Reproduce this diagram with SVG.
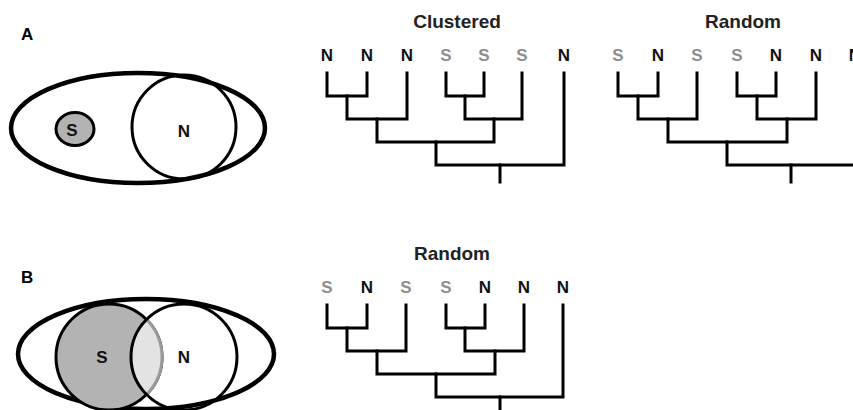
<svg xmlns="http://www.w3.org/2000/svg" width="853" height="410" viewBox="0 0 853 410">
<style>
text{font-family:"Liberation Sans",Arial,sans-serif;font-weight:bold;text-anchor:middle;}
.panel{font-size:17px;text-anchor:start;}
.title{font-size:19px;fill:#222;}
.tip{font-size:17px;fill:#111;}
.tip.s{fill:#8e8e8e;}
.venn{font-size:17px;fill:#111;}
.tree{fill:none;stroke:#000;stroke-width:3;stroke-linejoin:miter;stroke-linecap:square;}
.outer{fill:#fff;stroke:#000;stroke-width:4.5;}
.circ{fill:none;stroke:#000;stroke-width:3;}
</style>
<defs>
<clipPath id="clipN"><circle cx="184" cy="357" r="53"/></clipPath>
</defs>
<rect width="853" height="410" fill="#fff"/>

<text class="panel" x="21" y="40">A</text>
<text class="panel" x="21" y="283">B</text>

<g id="venn-a">
<ellipse class="outer" cx="138" cy="128" rx="127" ry="55"/>
<circle class="circ" cx="184" cy="127" r="52" fill="#fff"/>
<ellipse cx="75" cy="129" rx="19" ry="16.5" fill="#b3b3b3" stroke="#000" stroke-width="3"/>
<text class="venn" x="72" y="136">S</text>
<text class="venn" x="184" y="137">N</text>
</g>

<g id="venn-b">
<ellipse class="outer" cx="146" cy="354" rx="128" ry="55"/>
<circle cx="109" cy="357" r="53" fill="#b3b3b3" stroke="#000" stroke-width="3"/>
<circle cx="109" cy="357" r="53" fill="#e3e3e3" stroke="#9a9a9a" stroke-width="3" clip-path="url(#clipN)"/>
<circle class="circ" cx="184" cy="357" r="53"/>
<text class="venn" x="102" y="363">S</text>
<text class="venn" x="184" y="363">N</text>
</g>

<g id="tree-clustered">
<text class="title" x="457" y="28">Clustered</text>
<text class="tip" x="327" y="61">N</text>
<text class="tip" x="367" y="61">N</text>
<text class="tip" x="407" y="61">N</text>
<text class="tip s" x="446" y="61">S</text>
<text class="tip s" x="484" y="61">S</text>
<text class="tip s" x="522" y="61">S</text>
<text class="tip" x="564" y="61">N</text>
</g>

<g id="tree-random-a">
<text class="title" x="743" y="28">Random</text>
<text class="tip s" x="618" y="61">S</text>
<text class="tip" x="658" y="61">N</text>
<text class="tip s" x="697" y="61">S</text>
<text class="tip s" x="737" y="61">S</text>
<text class="tip" x="776" y="61">N</text>
<text class="tip" x="816" y="61">N</text>
<text class="tip" x="855" y="61">N</text>
</g>

<g id="tree-random-b">
<text class="title" x="452" y="260">Random</text>
<text class="tip s" x="327" y="293">S</text>
<text class="tip" x="367" y="293">N</text>
<text class="tip s" x="406" y="293">S</text>
<text class="tip s" x="446" y="293">S</text>
<text class="tip" x="485" y="293">N</text>
<text class="tip" x="524" y="293">N</text>
<text class="tip" x="563" y="293">N</text>
</g>

<g id="connectors" class="tree">
<path d="M327 73V96H367V73"/>
<path d="M347 96V119H407V73"/>
<path d="M446 73V96H484V73"/>
<path d="M465 96V119H522V73"/>
<path d="M377 119V142H494V119"/>
<path d="M436 142V165H564V73"/>
<path d="M500 165V182"/>

<path d="M618 73V96H658V73"/>
<path d="M638 96V119H697V73"/>
<path d="M737 73V96H776V73"/>
<path d="M757 96V119H816V73"/>
<path d="M668 119V142H787V119"/>
<path d="M727 142V165H855V73"/>
<path d="M791 165V182"/>

<path d="M327 305V328H367V305"/>
<path d="M347 328V351H406V305"/>
<path d="M446 305V328H485V305"/>
<path d="M465 328V351H524V305"/>
<path d="M377 351V374H495V351"/>
<path d="M436 374V397H563V305"/>
<path d="M500 397V414"/>
</g>
</svg>
